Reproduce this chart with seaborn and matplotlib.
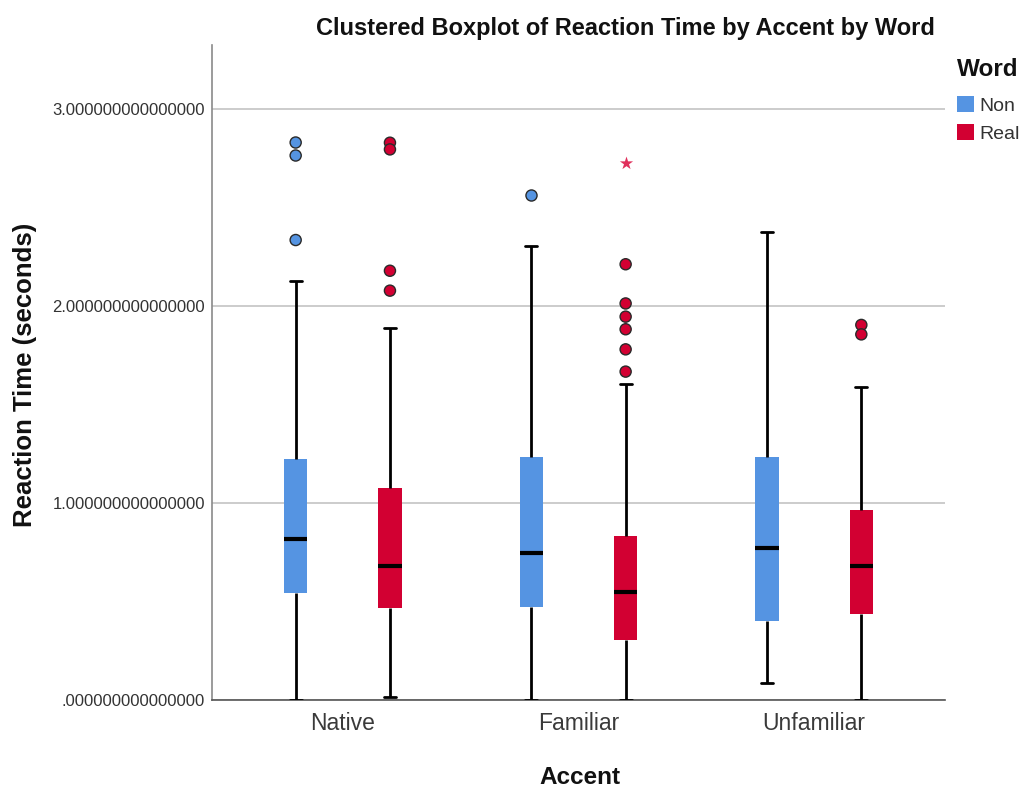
import numpy as np
import pandas as pd
import matplotlib
matplotlib.use("Agg")
import matplotlib.pyplot as plt
import seaborn as sns
from matplotlib.patches import Patch

accents = ["Native", "Familiar", "Unfamiliar"]
words = ["Non", "Real"]
colors = {"Non": "#5594e2", "Real": "#d20032"}
star_color = "#e0305c"

# five-number summaries: [lower whisker, Q1, median, Q3, upper whisker]
native_non = [0.000, 0.543, 0.817, 1.223, 2.128]
native_real = [0.017, 0.465, 0.682, 1.078, 1.888]
familiar_non = [0.000, 0.472, 0.746, 1.234, 2.305]
familiar_real = [0.000, 0.305, 0.548, 0.832, 1.604]
unfamiliar_non = [0.085, 0.401, 0.772, 1.234, 2.378]
unfamiliar_real = [0.000, 0.437, 0.680, 0.964, 1.589]

# outliers (circles)
native_non_out = [2.830, 2.764, 2.335]
native_real_out = [2.829, 2.795, 2.179, 2.078]
familiar_non_out = [2.563]
familiar_real_out = [2.212, 2.013, 1.946, 1.882, 1.780, 1.667]
unfamiliar_non_out = []
unfamiliar_real_out = [1.904, 1.856]
# extreme outliers (stars)
familiar_real_ext = [2.727]

ytick_values = [0, 1, 2, 3]
ytick_labels = [".000000000000000", "1.000000000000000",
                "2.000000000000000", "3.000000000000000"]


def frame(groups):
    rows = []
    for (acc, word), vals in groups.items():
        for v in vals:
            rows.append({"Accent": acc, "Word": word, "RT": v})
    return pd.DataFrame(rows, columns=["Accent", "Word", "RT"])


box_df = frame({
    ("Native", "Non"): native_non, ("Native", "Real"): native_real,
    ("Familiar", "Non"): familiar_non, ("Familiar", "Real"): familiar_real,
    ("Unfamiliar", "Non"): unfamiliar_non, ("Unfamiliar", "Real"): unfamiliar_real,
})
out_df = frame({
    ("Native", "Non"): native_non_out, ("Native", "Real"): native_real_out,
    ("Familiar", "Non"): familiar_non_out, ("Familiar", "Real"): familiar_real_out,
    ("Unfamiliar", "Non"): unfamiliar_non_out, ("Unfamiliar", "Real"): unfamiliar_real_out,
})
ext_df = frame({("Familiar", "Real"): familiar_real_ext})

sns.set_style("white")
plt.rcParams["font.family"] = ["Liberation Sans", "DejaVu Sans"]

fig = plt.figure(figsize=(10.23, 7.89), dpi=100)
ax = fig.add_axes([212 / 1023, 1 - 700 / 789, 733 / 1023, 655 / 789])

sns.boxplot(data=box_df, x="Accent", y="RT", hue="Word", order=accents,
            hue_order=words, palette=colors, width=0.8, gap=0.75,
            whis=np.inf, showfliers=False, linecolor="black", linewidth=2,
            saturation=1, boxprops=dict(linewidth=0),
            medianprops=dict(linewidth=3, color="black"),
            ax=ax, legend=False, zorder=3)

sns.stripplot(data=out_df, x="Accent", y="RT", hue="Word", order=accents,
              hue_order=words, palette=colors, dodge=True, jitter=False,
              size=8, linewidth=1, edgecolor="#2a2a2a", ax=ax, legend=False,
              zorder=4)
sns.stripplot(data=ext_df, x="Accent", y="RT", hue="Word", order=accents,
              hue_order=words, palette={"Non": star_color, "Real": star_color},
              dodge=True, jitter=False, marker="*", size=10, linewidth=0,
              ax=ax, legend=False, zorder=4)

ax.set_xlim(-0.555, 2.555)
ax.set_ylim(0, 3.325)
ax.set_yticks(ytick_values)
ax.set_yticklabels(ytick_labels)
ax.yaxis.grid(True, color="#c4c4c4", linewidth=1.2)
ax.xaxis.grid(False)
ax.set_axisbelow(True)
ax.set_xlabel("")
ax.set_ylabel("")
ax.tick_params(axis="y", length=0, pad=5, labelsize=12, labelcolor="#333333")
ax.tick_params(axis="x", length=0, pad=9, labelsize=16.5, labelcolor="#3a3a3a")
for s in ["top", "right"]:
    ax.spines[s].set_visible(False)
for s in ["left", "bottom"]:
    ax.spines[s].set_color("#8a8a8a")
    ax.spines[s].set_linewidth(1.2)
ax.spines["bottom"].set_color("#555555")

fig.text(625 / 1023, 1 - 28 / 789, "Clustered Boxplot of Reaction Time by Accent by Word",
         ha="center", va="center", fontsize=17, fontweight="bold", color="#111111")
fig.text(25 / 1023, 1 - 375 / 789, "Reaction Time (seconds)", rotation=90,
         ha="center", va="center", fontsize=18.5, fontweight="bold", color="#111111")
fig.text(580 / 1023, 1 - 778 / 789, "Accent", ha="center", va="center",
         fontsize=17.5, fontweight="bold", color="#111111")

fig.text(957 / 1023, 1 - 70 / 789, "Word", ha="left", va="center",
         fontsize=17.5, fontweight="bold", color="#111111")
handles = [Patch(facecolor=colors[w], edgecolor="none") for w in words]
leg = fig.legend(handles, words, loc="upper left",
                 bbox_to_anchor=(957 / 1023, 1 - 96 / 789), frameon=False,
                 borderpad=0, borderaxespad=0, fontsize=14,
                 handlelength=0.88, handleheight=0.88, handletextpad=0.25,
                 labelspacing=0.5)
for t in leg.get_texts():
    t.set_color("#333333")

fig.savefig("out.png", dpi=100)
